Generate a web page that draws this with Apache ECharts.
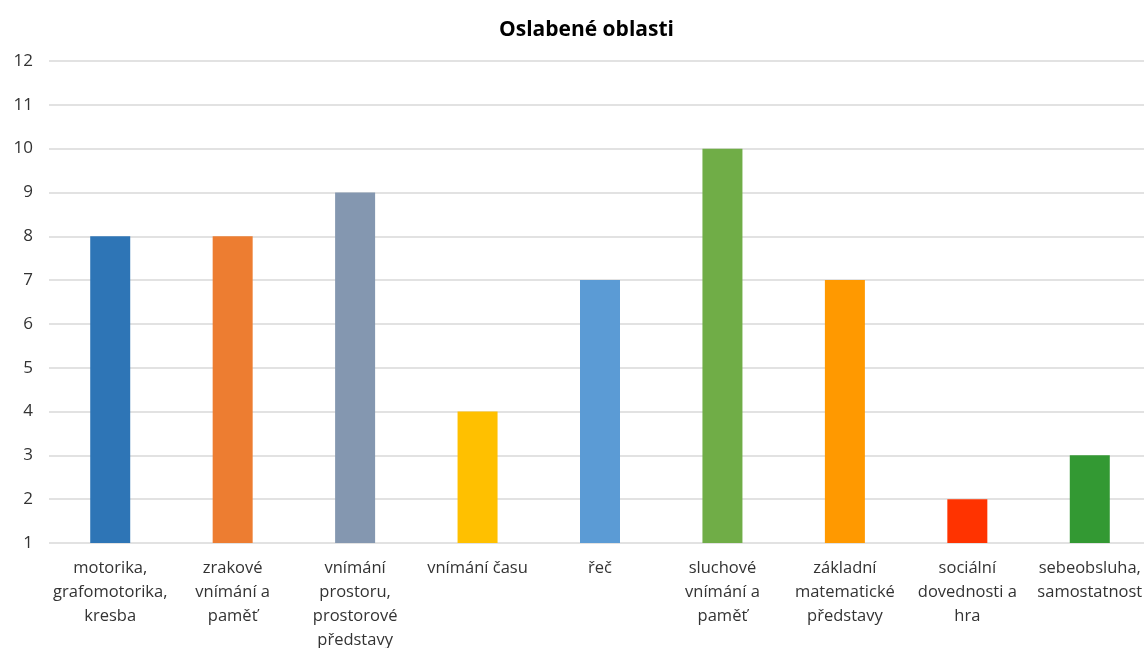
<!DOCTYPE html>
<html><head><meta charset="utf-8">
<script src="https://cdn.jsdelivr.net/npm/echarts@6/dist/echarts.min.js"></script>
<style>html,body{margin:0;padding:0;background:#fff}#c{width:1144px;height:648px}</style>
</head><body><div id="c"></div>
<script>
const categories = [
  "motorika,\ngrafomotorika,\nkresba",
  "zrakové\nvnímání a\npaměť",
  "vnímání\nprostoru,\nprostorové\npředstavy",
  "vnímání času",
  "řeč",
  "sluchové\nvnímání a\npaměť",
  "základní\nmatematické\npředstavy",
  "sociální\ndovednosti a\nhra",
  "sebeobsluha,\nsamostatnost"
];
const values = [8, 8, 9, 4, 7, 10, 7, 2, 3];
const colors = ["#2E75B6", "#ED7D31", "#8497B0", "#FFC000", "#5B9BD5", "#70AD47", "#FF9900", "#FF3300", "#339933"];
const yMin = 1, yMax = 12, yStep = 1;

const chart = echarts.init(document.getElementById('c'));
chart.setOption({
  animation: false,
  title: {
    text: "Oslabené oblasti",
    left: 494, top: 15,
    textStyle: { fontFamily: "Open Sans", fontSize: 21, fontWeight: "bold", color: "#000" }
  },
  grid: { left: 49, right: -7, top: 61, bottom: 105, containLabel: false, outerBoundsMode: 'none' },
  xAxis: {
    type: "category",
    data: categories,
    axisLine: { show: false },
    axisTick: { show: false },
    axisLabel: { interval: 0, margin: 13, lineHeight: 24, fontFamily: "Open Sans", fontSize: 16.5, color: "#333333" }
  },
  yAxis: {
    type: "value",
    min: yMin, max: yMax, interval: yStep,
    axisLine: { show: false },
    axisTick: { show: false },
    splitLine: { lineStyle: { color: "#D9D9D9", width: 1.5 } },
    axisLabel: { margin: 16, fontFamily: "Open Sans", fontSize: 17, color: "#333333" }
  },
  series: [{
    type: "bar",
    barWidth: 40,
    data: values.map((v, i) => ({ value: v, itemStyle: { color: colors[i] } }))
  }]
});
</script></body></html>
